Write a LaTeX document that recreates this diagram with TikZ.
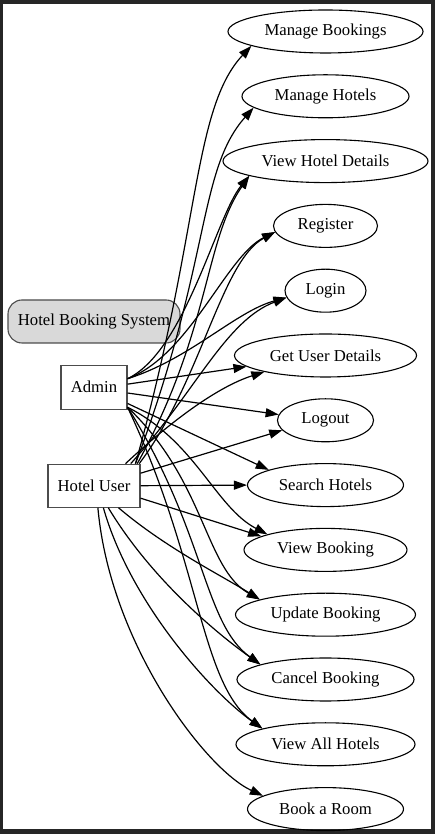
\documentclass[tikz,border=0pt]{standalone}
\usepackage{fontspec}
\setmainfont{Liberation Serif}
\usetikzlibrary{arrows.meta,positioning,shapes.geometric}

\begin{document}
\begin{tikzpicture}[
x=1pt, y=1pt,
node distance=20.7pt,
usecase/.style={draw, ellipse, minimum height=43pt, inner sep=0pt, line width=1.1pt, font=\fontsize{16.7}{20}\selectfont},
actor/.style={draw=black!70, rectangle, minimum height=43pt, inner sep=0pt, line width=1.1pt, font=\fontsize{16.7}{20}\selectfont},
arrow/.style={-{Triangle[length=13pt, width=9pt]}, line width=1.2pt}
]
% frame
\fill[black!85] (0,0) rectangle (435,834);
\fill[white] (3,5) rectangle (431,830);

% use cases
\node[usecase, minimum width=195pt] (mb) at (325.5,802.5) {Manage Bookings};
\node[usecase, minimum width=167pt, below=of mb] (mh) {Manage Hotels};
\node[usecase, minimum width=205pt, below=of mh] (vhd) {View Hotel Details};
\node[usecase, minimum width=104pt, below=of vhd] (reg) {Register};
\node[usecase, minimum width=81pt, below=of reg] (login) {Login};
\node[usecase, minimum width=182pt, below=of login] (gud) {Get User Details};
\node[usecase, minimum width=96pt, below=of gud] (logout) {Logout};
\node[usecase, minimum width=156pt, below=of logout] (search) {Search Hotels};
\node[usecase, minimum width=163pt, below=of search] (vb) {View Booking};
\node[usecase, minimum width=180pt, below=of vb] (upd) {Update Booking};
\node[usecase, minimum width=177pt, below=of upd] (canc) {Cancel Booking};
\node[usecase, minimum width=179pt, below=of canc] (va) {View All Hotels};
\node[usecase, minimum width=156pt, below=of va] (book) {Book a Room};

% actors
\node[actor, rounded corners=14pt, fill=black!15, minimum width=172pt] (hbs) at (94,512.5) {Hotel Booking System};
\node[actor, minimum width=66pt, minimum height=44pt, below=21pt of hbs] (admin) {Admin};
\node[actor, minimum width=92pt, below=54pt of admin] (huser) {Hotel User};

% admin
\draw[arrow] (admin.14) .. controls +(58,28) and +(-33,-40) .. (vhd.191);
\draw[arrow] (admin.14) .. controls +(63,24) and +(-49,-24) .. (reg.187);
\draw[arrow] (admin.14) .. controls +(63,20) and +(-51,-14) .. (login.190);
\draw[arrow] (admin.5) -- (gud.188);
\draw[arrow] (admin.-10) -- (logout.173);
\draw[arrow] (admin.-26) -- (search.165);
\draw[arrow] (admin.-31) .. controls +(68,-34) and +(-52,27) .. (vb.165);
\draw[arrow] (admin.-31) .. controls +(78,-74) and +(-55,31) .. (upd.167);
\draw[arrow] (admin.-31) .. controls +(78,-124) and +(-57,41) .. (canc.167);
\draw[arrow] (admin.-31) .. controls +(73,-154) and +(-62,45) .. (va.166);

% hotel user
\draw[arrow] (huser.28) .. controls +(65,232) and +(-59,-63) .. (mb.191);
\draw[arrow] (huser.28) .. controls +(76,202) and +(-56,-63) .. (mh.189);
\draw[arrow] (huser.27) .. controls +(73,132) and +(-45,-65) .. (vhd.191);
\draw[arrow] (huser.26) .. controls +(62,82) and +(-54,-29) .. (reg.187);
\draw[arrow] (huser.31) .. controls +(65,72) and +(-61,-23) .. (login.190);
\draw[arrow] (huser.35) .. controls +(45,42) and +(-47,-15) .. (gud.195);
\draw[arrow] (huser.15) -- (logout.193);
\draw[arrow] (huser.east) -- (search.west);
\draw[arrow] (huser.-15) -- (vb.168);
\draw[arrow] (huser.-42) .. controls +(47,-40) and +(-40,25) .. (upd.167);
\draw[arrow] (huser.-57) .. controls +(42,-70) and +(-45,32) .. (canc.167);
\draw[arrow] (huser.-67) .. controls +(27,-95) and +(-52,37) .. (va.166);
\draw[arrow] (huser.-80) .. controls +(12,-135) and +(-58,27) .. (book.168);
\end{tikzpicture}
\end{document}
